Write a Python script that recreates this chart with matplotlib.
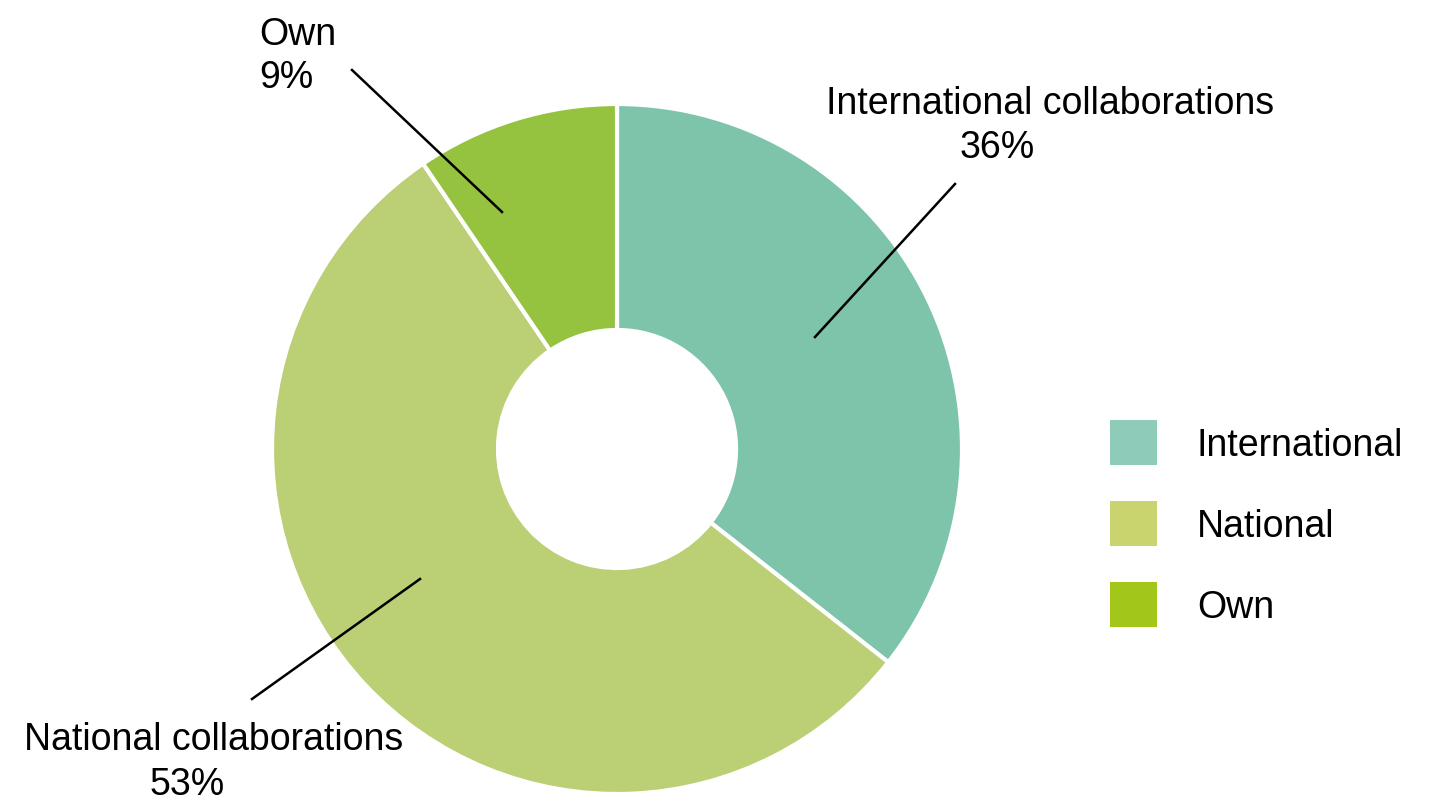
import matplotlib.pyplot as plt
from matplotlib.patches import Patch

plt.rcParams['font.family'] = ['Liberation Sans', 'DejaVu Sans']

# shares, labels as printed on the chart
categories = ['International', 'National', 'Own']
shares = [35.6, 54.9, 9.5]
callout_names = ['International collaborations', 'National collaborations', 'Own']
callout_pcts = ['36%', '53%', '9%']

wedge_colors = ['#7DC4AB', '#BBCF75', '#95C23F']
legend_colors = ['#8ECBB8', '#C9D46F', '#A3C61A']

W, H = 1437, 803
fig = plt.figure(figsize=(W / 100, H / 100), dpi=100)

cx, cy, R = 617, 450, 345
ax = fig.add_axes([(cx - R) / W, (H - cy - R) / H, 2 * R / W, 2 * R / H])
ax.pie(shares, colors=wedge_colors, startangle=90, counterclock=False,
       radius=1.0, wedgeprops=dict(width=0.655, edgecolor='white', linewidth=3))
ax.set_xlim(-1, 1)
ax.set_ylim(-1, 1)
ax.set_aspect('equal')
ax.axis('off')


def px(x, y):
    # pixel position -> data coordinates of the pie axes
    return (x - cx) / R, (cy - y) / R


fs = 27
# leader lines: (start inside wedge, end near label)
leaders = [((815, 338), (955, 185)), ((420, 580), (252, 700)), ((502, 213), (352, 71))]
for (a, b) in leaders:
    p0, p1 = px(*a), px(*b)
    ax.plot([p0[0], p1[0]], [p0[1], p1[1]], color='black', lw=1.8, clip_on=False)

# International
ax.text(*px(1050, 104), callout_names[0], ha='center', va='center', fontsize=fs)
ax.text(*px(997, 148), callout_pcts[0], ha='center', va='center', fontsize=fs)
# National
ax.text(*px(214, 740), callout_names[1], ha='center', va='center', fontsize=fs)
ax.text(*px(187, 785), callout_pcts[1], ha='center', va='center', fontsize=fs)
# Own
ax.text(*px(259, 35), callout_names[2], ha='left', va='center', fontsize=fs)
ax.text(*px(259, 78), callout_pcts[2], ha='left', va='center', fontsize=fs)

fs_px = fs * 100 / 72
handles = [Patch(facecolor=c, edgecolor='none') for c in legend_colors]
fig.legend(handles, categories, loc='upper left', bbox_to_anchor=(1110 / W, 1 - 421 / H),
           frameon=False, fontsize=fs, borderpad=0, borderaxespad=0,
           handlelength=47 / fs_px, handleheight=55 / fs_px,
           handletextpad=40 / fs_px, labelspacing=36 / fs_px)

fig.savefig('out.png', dpi=100)
